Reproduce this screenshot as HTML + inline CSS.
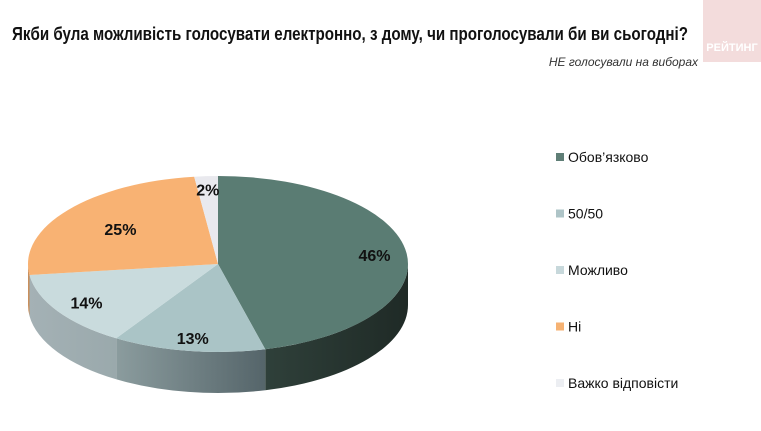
<!DOCTYPE html>
<html><head><meta charset="utf-8"><style>
body{margin:0;background:#fff;}
svg{display:block;font-family:"Liberation Sans Narrow","Liberation Sans",sans-serif;}
</style></head><body>
<svg id="chart" width="761" height="431" viewBox="0 0 761 431">
<defs>
<linearGradient id="g0" x1="0" x2="1" y1="0" y2="0"><stop offset="0" stop-color="#2f403a"/><stop offset="1" stop-color="#1f2a26"/></linearGradient>
<linearGradient id="g1" x1="0" x2="1" y1="0" y2="0"><stop offset="0" stop-color="#8b9c9e"/><stop offset="1" stop-color="#55656a"/></linearGradient>
<linearGradient id="g2" x1="0" x2="1" y1="0" y2="0"><stop offset="0" stop-color="#a4b1b5"/><stop offset="1" stop-color="#9aa9ac"/></linearGradient>
<linearGradient id="g3" x1="0" x2="1" y1="0" y2="0"><stop offset="0" stop-color="#c98f5c"/><stop offset="1" stop-color="#c98f5c"/></linearGradient>
<linearGradient id="g4" x1="0" x2="1" y1="0" y2="0"><stop offset="0" stop-color="#c0c0c6"/><stop offset="1" stop-color="#c0c0c6"/></linearGradient>
</defs>
<rect x="703" y="0" width="58" height="62" fill="#f3dcdc"/>
<text x="732" y="51" text-anchor="middle" font-size="11" font-weight="bold" fill="#fff">РЕЙТИНГ</text>
<text x="12" y="40" font-size="18" font-weight="bold" fill="#111" textLength="676" lengthAdjust="spacingAndGlyphs">Якби була можливість голосувати електронно, з дому, чи проголосували би ви сьогодні?</text>
<text x="698" y="66" text-anchor="end" font-size="12" font-style="italic" fill="#333">НЕ голосували на виборах</text>
<g id="pie"></g>
<g id="legend"></g>
</svg>
<script>
const categories = ["Обов’язково","50/50","Можливо","Ні","Важко відповісти"];
const values = [46,13,14,25,2];
const valueLabels = ["46%","13%","14%","25%","2%"];
const topColors = ["#5a7c73","#aac4c6","#c9dbdd","#f8b273","#e9e9ee"];
const legendColors = ["#5f7e76","#aec4c7","#c7d8db","#f6b273","#eceef2"];

const NS="http://www.w3.org/2000/svg";
const cx=218, cy=264, rx=190, ry=88, depth=41;
const pie=document.getElementById('pie');
const legend=document.getElementById('legend');
const total=values.reduce((a,b)=>a+b,0);
function pt(a,dy){return [cx+rx*Math.sin(a), cy-ry*Math.cos(a)+(dy||0)];}
const angles=[];let acc=0;
values.forEach(v=>{const a0=acc/total*2*Math.PI;acc+=v;angles.push([a0,acc/total*2*Math.PI]);});
// sides
angles.forEach(([a0,a1],i)=>{
  const s=Math.max(a0,Math.PI/2), e=Math.min(a1,Math.PI*1.5);
  if(e<=s) return;
  const p0=pt(s),p1=pt(e),b1=pt(e,depth),b0=pt(s,depth);
  const lg=(e-s)>Math.PI?1:0;
  const d=`M${p0} A${rx},${ry} 0 ${lg} 1 ${p1} L${b1} A${rx},${ry} 0 ${lg} 0 ${b0} Z`;
  const path=document.createElementNS(NS,'path');
  path.setAttribute('d',d);path.setAttribute('fill',`url(#g${i})`);
  
  
  pie.appendChild(path);
});
// tops
angles.forEach(([a0,a1],i)=>{
  const p0=pt(a0),p1=pt(a1);
  const lg=(a1-a0)>Math.PI?1:0;
  const path=document.createElementNS(NS,'path');
  path.setAttribute('d',`M${cx},${cy} L${p0} A${rx},${ry} 0 ${lg} 1 ${p1} Z`);
  path.setAttribute('fill',topColors[i]);
  
  
  pie.appendChild(path);
});
// labels
const labelR=[0.83,0.85,0.82,0.65,0.85];
angles.forEach(([a0,a1],i)=>{
  const m=(a0+a1)/2;
  const x=cx+rx*labelR[i]*Math.sin(m), y=cy-ry*labelR[i]*Math.cos(m)+6;
  const t=document.createElementNS(NS,'text');
  t.setAttribute('x',x);t.setAttribute('y',y);t.setAttribute('text-anchor','middle');
  t.setAttribute('font-size','16');t.setAttribute('font-weight','bold');t.setAttribute('fill','#111');
  t.textContent=valueLabels[i];
  
  
  pie.appendChild(t);
});
// legend
categories.forEach((c,i)=>{
  const y=157+i*56.5;
  const r=document.createElementNS(NS,'rect');
  r.setAttribute('x',556);r.setAttribute('y',y-4);r.setAttribute('width',8);r.setAttribute('height',8);
  r.setAttribute('fill',legendColors[i]);
  
  
  legend.appendChild(r);
  const t=document.createElementNS(NS,'text');
  t.setAttribute('x',568);t.setAttribute('y',y+5);t.setAttribute('font-size','14');t.setAttribute('fill','#111');
  t.textContent=c;
  
  
  legend.appendChild(t);
});
</script>
</body></html>
